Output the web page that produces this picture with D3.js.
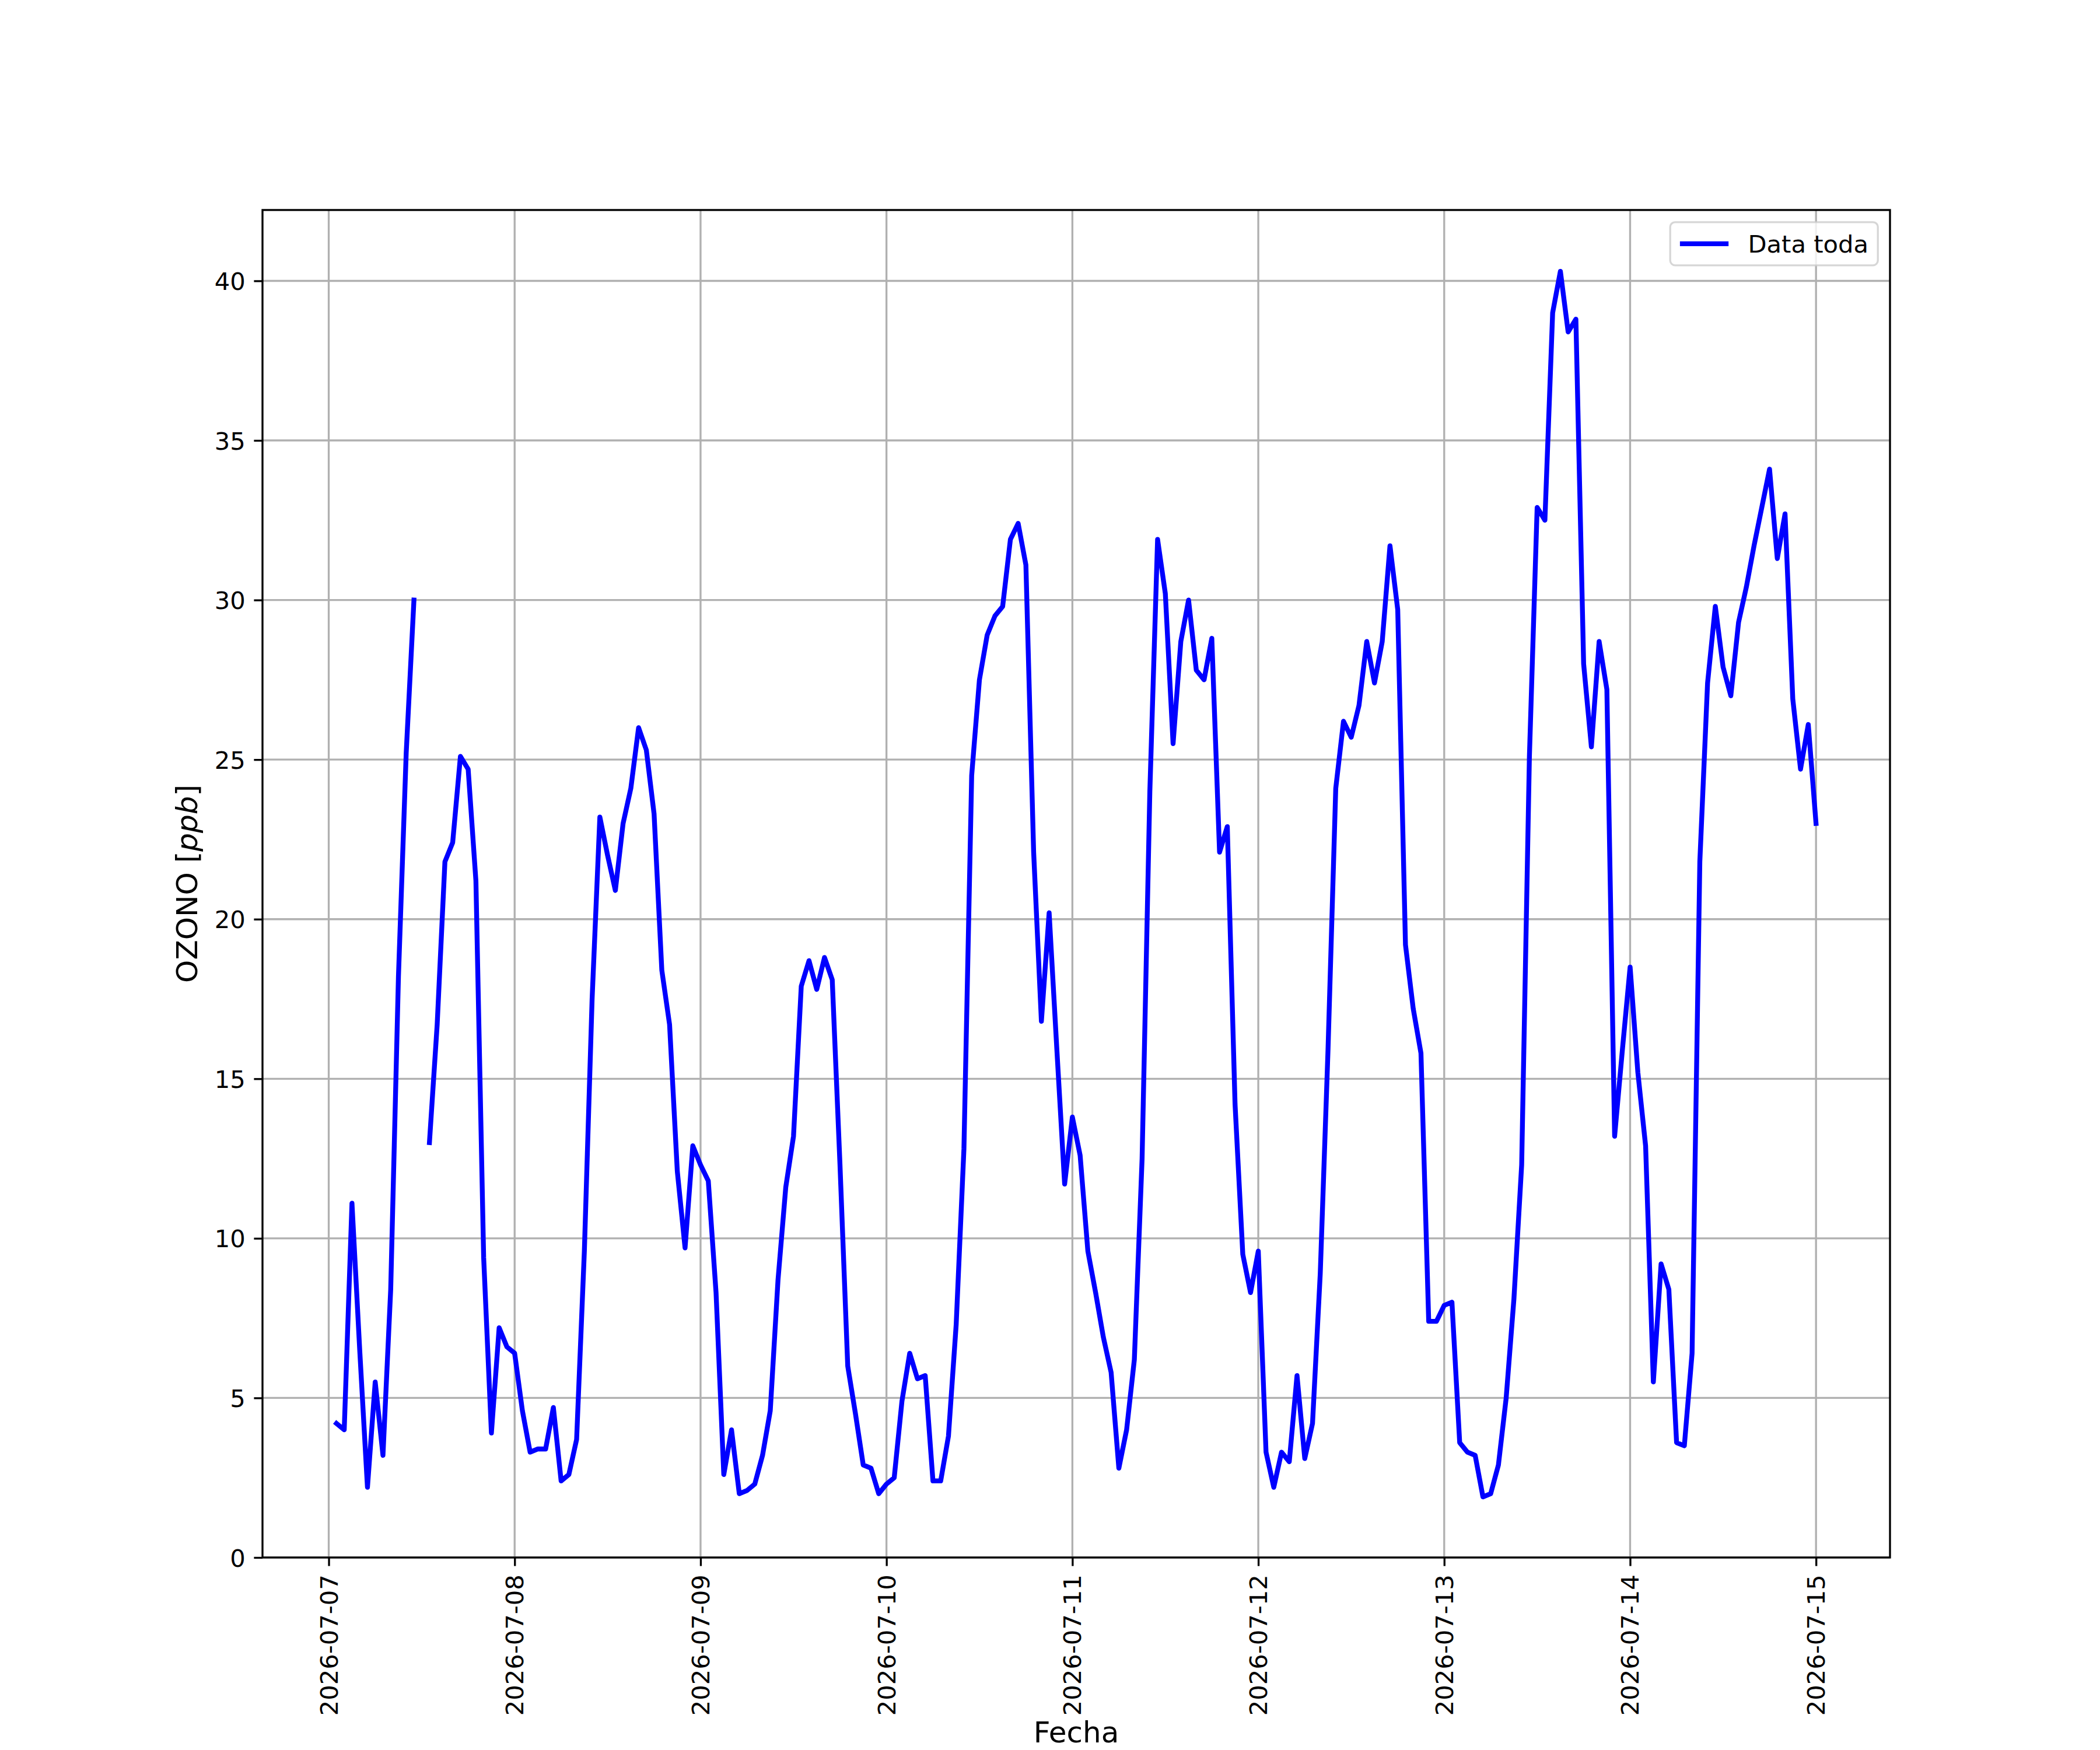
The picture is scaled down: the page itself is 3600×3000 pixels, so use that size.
<!DOCTYPE html>
<html>
<head>
<meta charset="utf-8">
<script src="https://cdn.jsdelivr.net/npm/d3@7"></script>
<style>
  body { margin: 0; background: #fff; }
  text { font-family: "DejaVu Sans", sans-serif; }
</style>
</head>
<body>
<div id="chart"></div>
<script>
// hourly ozone readings, first one at 2026-07-07 01:00, null = missing hour
var firstReading = Date.UTC(2026, 6, 7, 1);
var ozone = [
    4.2, 4.0, 11.1, 6.5, 2.2, 5.5, 3.2, 8.4, 18.2, 25.2, 30.0, null,
    13.0, 16.7, 21.8, 22.4, 25.1, 24.7, 21.2, 9.4, 3.9, 7.2, 6.6, 6.4,
    4.6, 3.3, 3.4, 3.4, 4.7, 2.4, 2.6, 3.7, 9.6, 17.5, 23.2, 22.0,
    20.9, 23.0, 24.1, 26.0, 25.3, 23.3, 18.4, 16.7, 12.1, 9.7, 12.9, 12.3,
    11.8, 8.3, 2.6, 4.0, 2.0, 2.1, 2.3, 3.2, 4.6, 8.7, 11.6, 13.2,
    17.9, 18.7, 17.8, 18.8, 18.1, 12.3, 6.0, 4.5, 2.9, 2.8, 2.0, 2.3,
    2.5, 4.9, 6.4, 5.6, 5.7, 2.4, 2.4, 3.8, 7.3, 12.8, 24.5, 27.5,
    28.9, 29.5, 29.8, 31.9, 32.4, 31.1, 22.1, 16.8, 20.2, 15.9, 11.7, 13.8,
    12.6, 9.6, 8.3, 6.9, 5.8, 2.8, 4.0, 6.2, 12.5, 24.0, 31.9, 30.2,
    25.5, 28.7, 30.0, 27.8, 27.5, 28.8, 22.1, 22.9, 14.2, 9.5, 8.3, 9.6,
    3.3, 2.2, 3.3, 3.0, 5.7, 3.1, 4.2, 8.9, 15.9, 24.1, 26.2, 25.7,
    26.7, 28.7, 27.4, 28.7, 31.7, 29.7, 19.2, 17.2, 15.8, 7.4, 7.4, 7.9,
    8.0, 3.6, 3.3, 3.2, 1.9, 2.0, 2.9, 5.0, 8.1, 12.3, 25.1, 32.9,
    32.5, 39.0, 40.3, 38.4, 38.8, 28.0, 25.4, 28.7, 27.2, 13.2, 15.9, 18.5,
    15.2, 12.9, 5.5, 9.2, 8.4, 3.6, 3.5, 6.4, 21.8, 27.4, 29.8, 27.9,
    27.0, 29.3, 30.4, 31.7, 32.9, 34.1, 31.3, 32.7, 26.9, 24.7, 26.1, 23.0
];
var dayTicks = ["2026-07-07", "2026-07-08", "2026-07-09", "2026-07-10", "2026-07-11",
    "2026-07-12", "2026-07-13", "2026-07-14", "2026-07-15"];
var yTicks = [0, 5, 10, 15, 20, 25, 30, 35, 40];
var seriesName = "Data toda";

var data = ozone.map(function (v, i) {
    return { t: new Date(firstReading + i * 3600000), v: v };
});

// matplotlib-like figure: 12x10 in at 300 dpi
var W = 3600, H = 3000;
var axL = 450, axR = 3240, axT = 360, axB = 2670;
var fs = 41.67, lw = 3.33, seriesW = 8.33;

var svg = d3.select("#chart").append("svg")
    .attr("width", W)
    .attr("height", H);

var tExt = d3.extent(data, function (d) { return d.t; });
var tPad = (tExt[1] - tExt[0]) * 0.05;
var xScale = d3.scaleUtc()
    .domain([new Date(+tExt[0] - tPad), new Date(+tExt[1] + tPad)])
    .range([axL, axR]);

var vals = ozone.filter(function (v) { return v != null; });
var vMin = d3.min(vals), vMax = d3.max(vals);
var yScale = d3.scaleLinear()
    .domain([0, vMax + (vMax - vMin) * 0.05])
    .range([axB, axT]);

var parseDay = d3.utcParse("%Y-%m-%d");
var tickDates = dayTicks.map(parseDay);

// grid
svg.append("g").selectAll("line")
    .data(tickDates)
    .enter().append("line")
    .attr("x1", function (d) { return xScale(d); })
    .attr("x2", function (d) { return xScale(d); })
    .attr("y1", axT).attr("y2", axB)
    .attr("stroke", "#b0b0b0").attr("stroke-width", lw);

svg.append("g").selectAll("line")
    .data(yTicks)
    .enter().append("line")
    .attr("x1", axL).attr("x2", axR)
    .attr("y1", function (d) { return yScale(d); })
    .attr("y2", function (d) { return yScale(d); })
    .attr("stroke", "#b0b0b0").attr("stroke-width", lw);

// the series
svg.append("clipPath").attr("id", "plot")
    .append("rect")
    .attr("x", axL).attr("y", axT)
    .attr("width", axR - axL).attr("height", axB - axT);

var line = d3.line()
    .defined(function (d) { return d.v != null; })
    .x(function (d) { return xScale(d.t); })
    .y(function (d) { return yScale(d.v); });

svg.append("path")
    .datum(data)
    .attr("clip-path", "url(#plot)")
    .attr("d", line)
    .attr("fill", "none")
    .attr("stroke", "#0000ff")
    .attr("stroke-width", seriesW)
    .attr("stroke-linejoin", "round")
    .attr("stroke-linecap", "square");

// axes
var xAxis = svg.append("g")
    .attr("transform", "translate(0," + axB + ")")
    .call(d3.axisBottom(xScale)
        .tickValues(tickDates)
        .tickFormat(d3.utcFormat("%Y-%m-%d"))
        .tickSize(14.6)
        .tickPadding(14.6));
xAxis.select(".domain").remove();
xAxis.selectAll(".tick line").attr("stroke", "#000").attr("stroke-width", lw);
xAxis.selectAll(".tick text")
    .attr("font-size", fs)
    .attr("font-family", "DejaVu Sans")
    .attr("fill", "#000")
    .attr("y", 0).attr("dy", null)
    .attr("transform", "translate(0,29.2) rotate(-90)")
    .attr("text-anchor", "end")
    .attr("dominant-baseline", "central");

var yAxis = svg.append("g")
    .attr("transform", "translate(" + axL + ",0)")
    .call(d3.axisLeft(yScale)
        .tickValues(yTicks)
        .tickFormat(d3.format("d"))
        .tickSize(14.6)
        .tickPadding(14.6));
yAxis.select(".domain").remove();
yAxis.selectAll(".tick line").attr("stroke", "#000").attr("stroke-width", lw);
yAxis.selectAll(".tick text")
    .attr("font-size", fs)
    .attr("font-family", "DejaVu Sans")
    .attr("fill", "#000")
    .attr("dy", "0.36em");

// frame
svg.append("rect")
    .attr("x", axL).attr("y", axT)
    .attr("width", axR - axL).attr("height", axB - axT)
    .attr("fill", "none")
    .attr("stroke", "#000")
    .attr("stroke-width", lw);

// axis labels
svg.append("text")
    .attr("x", (axL + axR) / 2)
    .attr("y", 2987)
    .attr("text-anchor", "middle")
    .attr("font-size", 50)
    .text("Fecha");

var yl = svg.append("text")
    .attr("transform", "translate(338," + (axT + axB) / 2 + ") rotate(-90)")
    .attr("text-anchor", "middle")
    .attr("font-size", 50);
yl.append("tspan").text("OZONO [");
yl.append("tspan").attr("font-style", "italic").text("ppb");
yl.append("tspan").text("]");

// legend
var lgW = 356, lgH = 74;
var lgX = axR - 20.8 - lgW, lgY = axT + 20.8;
var lg = svg.append("g");
lg.append("rect")
    .attr("x", lgX).attr("y", lgY)
    .attr("width", lgW).attr("height", lgH)
    .attr("rx", 8.3).attr("ry", 8.3)
    .attr("fill", "#fff").attr("fill-opacity", 0.8)
    .attr("stroke", "#cccccc").attr("stroke-opacity", 0.8)
    .attr("stroke-width", lw);
lg.append("line")
    .attr("x1", lgX + 16.7).attr("x2", lgX + 16.7 + 83.3)
    .attr("y1", lgY + lgH / 2).attr("y2", lgY + lgH / 2)
    .attr("stroke", "#0000ff").attr("stroke-width", seriesW);
lg.append("text")
    .attr("x", lgX + 16.7 + 83.3 + 33.3)
    .attr("y", lgY + lgH / 2)
    .attr("dy", "0.36em")
    .attr("font-size", fs)
    .text(seriesName);
</script>
</body>
</html>
